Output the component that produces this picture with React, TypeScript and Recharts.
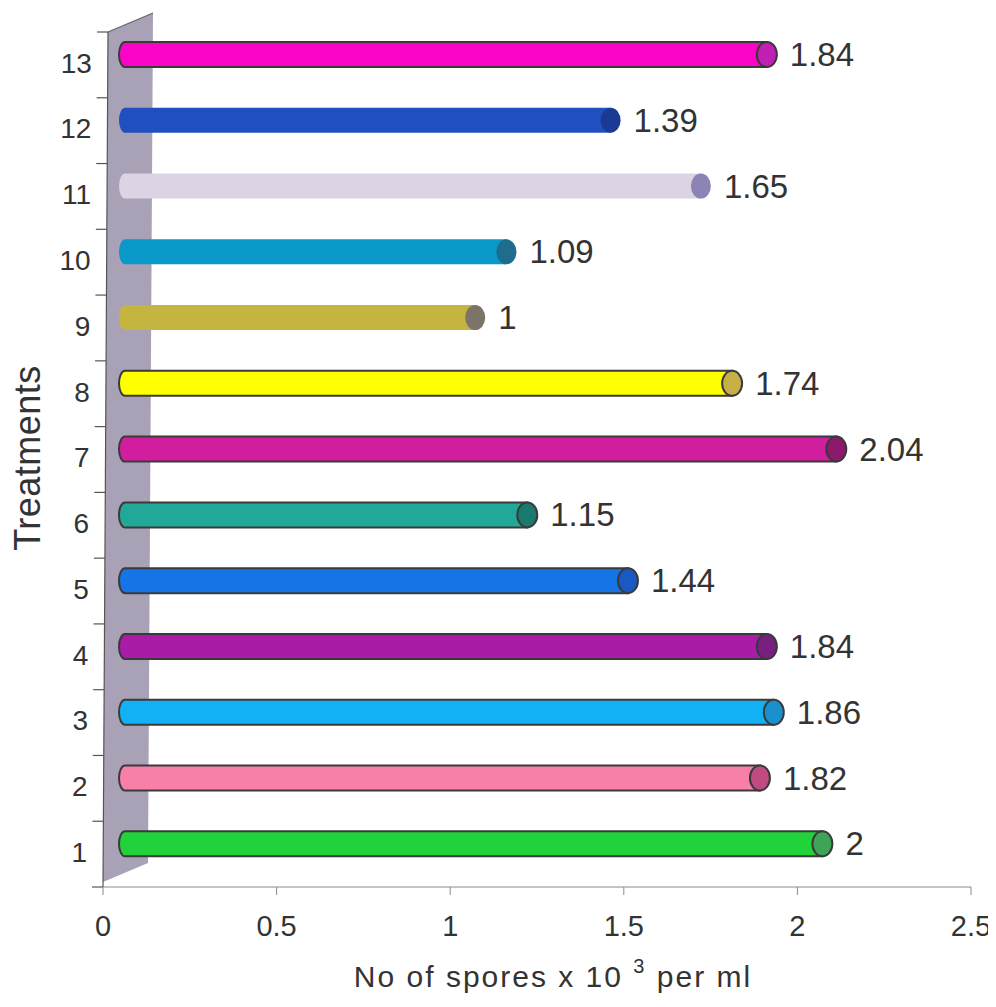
import React from 'react';
import { BarChart, Bar, XAxis, YAxis, LabelList, Customized } from 'recharts';

const FONT = '"Liberation Sans", Arial, Helvetica, sans-serif';

// Treatments 1..13 and spore counts (x 10^3 per ml)
const treatments = ['1', '2', '3', '4', '5', '6', '7', '8', '9', '10', '11', '12', '13'];
const sporeCounts = [2, 1.82, 1.86, 1.84, 1.44, 1.15, 2.04, 1.74, 1, 1.09, 1.65, 1.39, 1.84];
const xTicks = [0, 0.5, 1, 1.5, 2, 2.5];

// body / end-cap colours per treatment
const bodyColors = [
  '#22d23a', '#f880a8', '#12b0f4', '#a81ca8', '#1674e6', '#22a898',
  '#d21e9e', '#ffff00', '#c4b440', '#0a98c8', '#dcd4e4', '#2050c0', '#fc04c8',
];
const capColors = [
  '#3ea456', '#c04a82', '#1a90cc', '#782080', '#1a58c4', '#1a7a70',
  '#8c1a6c', '#c8b048', '#7c7466', '#206c8c', '#8c84b4', '#1a3a94', '#c020b4',
];
const outlined = [true, true, true, true, true, true, true, true, false, false, false, false, true];

const rows = treatments.map((name, i) => ({ name, spores: sporeCounts[i] }));

const CHART_W = 996;
const CHART_H = 995;
// plot area inside the svg
const PLOT = { left: 103, top: 32, width: 868, height: 855 };
const DEPTH_X = 16;
const DEPTH_Y = -10;

// slanted back wall x at a given y (perspective lean)
const wallX = (y: number) => PLOT.left + 5 - (5 * (y - PLOT.top)) / PLOT.height;

const Backdrop = () => {
  const band = PLOT.height / treatments.length;
  const bottom = PLOT.top + PLOT.height;
  const ticks = [];
  for (let k = 0; k <= treatments.length; k++) {
    const y = PLOT.top + k * band;
    const x = wallX(y);
    ticks.push(<line key={k} x1={x - 11} y1={y} x2={x} y2={y} stroke="#555" strokeWidth={1.2} />);
  }
  return (
    <g>
      <polygon
        points={`${PLOT.left + 5},${PLOT.top} ${PLOT.left + 50},${PLOT.top - 19} ${PLOT.left + 45},${bottom - 24} ${PLOT.left},${bottom - 5}`}
        fill="#a9a1b6"
      />
      <line x1={PLOT.left + 5} y1={PLOT.top} x2={PLOT.left + 50} y2={PLOT.top - 19} stroke="#666" strokeWidth={1.2} />
      <line x1={PLOT.left + 5} y1={PLOT.top} x2={PLOT.left} y2={bottom} stroke="#555" strokeWidth={1.2} />
      {ticks}
      <text
        transform="translate(27, 458) rotate(-90)"
        textAnchor="middle"
        dy="0.35em"
        fontFamily={FONT}
        fontSize={36}
        letterSpacing={0.5}
        fill="#333"
      >
        Treatments
      </text>
      <text x={553} y={987} textAnchor="middle" fontFamily={FONT} fontSize={30} letterSpacing={2} fill="#333">
        No of spores x 10 <tspan fontSize={20} dy={-14}>3</tspan>
        <tspan dy={14}> per ml</tspan>
      </text>
    </g>
  );
};

const CategoryTick = (props: any) => {
  const { y, payload } = props;
  return (
    <text x={wallX(y) - 16} y={y - 2} dy="0.35em" textAnchor="end" fontFamily={FONT} fontSize={28} fill="#333">
      {payload.value}
    </text>
  );
};

// cylinder-like bar: rounded back end, oblique end cap at the value
const TubeBar = (props: any) => {
  const { x, y, width, height, index } = props;
  const top = y + DEPTH_Y;
  const h = height;
  const left = x + DEPTH_X;
  const cx = x + width + 25;
  const stroke = outlined[index] ? '#3a3a3a' : 'none';
  return (
    <g>
      <path
        d={`M${left + 6},${top} L${cx},${top} L${cx},${top + h} L${left + 6},${top + h} A6,${h / 2} 0 0 1 ${left + 6},${top} Z`}
        fill={bodyColors[index]}
        stroke={stroke}
        strokeWidth={2}
      />
      <ellipse cx={cx} cy={top + h / 2} rx={10} ry={h / 2} fill={capColors[index]} stroke={stroke} strokeWidth={2} />
    </g>
  );
};

const ValueLabel = (props: any) => {
  const { x, y, width, height, value } = props;
  return (
    <text
      x={x + width + 48}
      y={y + height / 2 + DEPTH_Y}
      dy="0.35em"
      fontFamily={FONT}
      fontSize={33}
      fill="#333"
    >
      {value}
    </text>
  );
};

export default function App() {
  return (
    <div style={{ width: CHART_W, height: CHART_H, margin: '-8px 0 0 -8px', background: '#fff' }}>
      <BarChart
        width={CHART_W}
        height={CHART_H}
        data={rows}
        layout="vertical"
        margin={{ top: PLOT.top, right: CHART_W - PLOT.left - PLOT.width, bottom: 0, left: 0 }}
        barSize={25}
      >
        <Customized component={<Backdrop />} />
        <XAxis
          type="number"
          domain={[0, 2.5]}
          ticks={xTicks}
          height={CHART_H - PLOT.top - PLOT.height}
          axisLine={{ stroke: '#8a8a8a' }}
          tickLine={{ stroke: '#8a8a8a' }}
          tickSize={8}
          tickMargin={20}
          tick={{ fontSize: 29, fill: '#333', fontFamily: FONT }}
        />
        <YAxis
          type="category"
          dataKey="name"
          reversed
          width={PLOT.left}
          axisLine={false}
          tickLine={false}
          interval={0}
          tick={<CategoryTick />}
        />
        <Bar dataKey="spores" shape={<TubeBar />} isAnimationActive={false}>
          <LabelList dataKey="spores" content={<ValueLabel />} />
        </Bar>
      </BarChart>
    </div>
  );
}
